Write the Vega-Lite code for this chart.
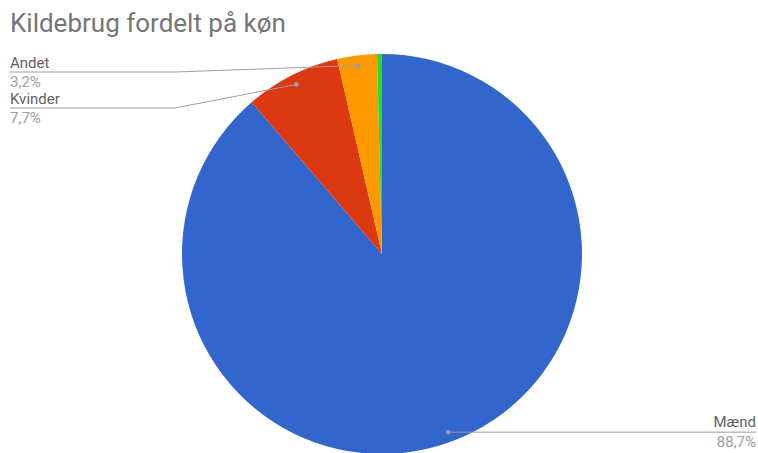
{
  "$schema": "https://vega.github.io/schema/vega-lite/v6.json",
  "width": 758,
  "height": 408,
  "autosize": {"type": "none"},
  "padding": {"left": 0, "top": 45, "right": 0, "bottom": 0},
  "background": "white",
  "title": {"text": "Kildebrug fordelt på køn", "anchor": "start", "frame": "group", "dx": 10, "dy": 25, "offset": 12, "baseline": "alphabetic", "font": "Roboto", "fontSize": 26, "fontWeight": "normal", "color": "#757575"},
  "config": {"view": {"stroke": null}},
  "data": {"values": [
    {"kategori": "Mænd", "andel": 88.7, "idx": 1},
    {"kategori": "Kvinder", "andel": 7.7, "idx": 2},
    {"kategori": "Andet", "andel": 3.2, "idx": 3},
    {"kategori": "Ukendt", "andel": 0.4, "idx": 4}
  ]},
  "layer": [
    {
      "mark": {"type": "arc", "outerRadius": 200},
      "encoding": {
        "theta": {"field": "andel", "type": "quantitative", "stack": true},
        "order": {"field": "idx", "type": "quantitative"},
        "color": {"field": "kategori", "type": "nominal", "scale": {"domain": ["Mænd", "Kvinder", "Andet", "Ukendt"], "range": ["#3366cc", "#dc3912", "#ff9900", "#22e022"]}, "legend": null},
        "x": {"datum": 382, "type": "quantitative", "scale": {"domain": [0, 758], "nice": false, "zero": false}, "axis": null},
        "y": {"datum": 254, "type": "quantitative", "scale": {"domain": [45, 453], "nice": false, "zero": false, "reverse": true}, "axis": null}
      }
    },
    {
      "transform": [
        {"window": [{"op": "sum", "field": "andel", "as": "cum"}], "sort": [{"field": "idx"}], "frame": [null, 0]},
        {"calculate": "2*PI*(datum.cum - datum.andel/2)/100", "as": "vinkel"},
        {"calculate": "382 + 190*sin(datum.vinkel)", "as": "px"},
        {"calculate": "254 - 190*cos(datum.vinkel)", "as": "py"},
        {"filter": "datum.kategori !== 'Ukendt'"},
        {"calculate": "datum.kategori === 'Mænd' ? datum.py : (datum.kategori === 'Andet' ? 72 : 108)", "as": "ly"},
        {"calculate": "datum.kategori === 'Mænd' ? datum.px : 175", "as": "kx"},
        {"calculate": "datum.kategori === 'Mænd' ? 756 : 10", "as": "ex"},
        {"calculate": "replace(format(datum.andel, '.1f'), '.', ',') + '%'", "as": "tekst"}
      ],
      "layer": [
        {
          "mark": {"type": "rule", "color": "#9e9e9e", "strokeWidth": 1},
          "encoding": {
            "x": {"field": "px", "type": "quantitative"},
            "y": {"field": "py", "type": "quantitative"},
            "x2": {"field": "kx"},
            "y2": {"field": "ly"}
          }
        },
        {
          "mark": {"type": "rule", "color": "#9e9e9e", "strokeWidth": 1},
          "encoding": {
            "x": {"field": "kx", "type": "quantitative"},
            "y": {"field": "ly", "type": "quantitative"},
            "x2": {"field": "ex"}
          }
        },
        {
          "mark": {"type": "circle", "size": 22, "color": "#9e9e9e", "opacity": 1},
          "encoding": {
            "x": {"field": "px", "type": "quantitative"},
            "y": {"field": "py", "type": "quantitative"}
          }
        },
        {
          "transform": [{"filter": "datum.kategori !== 'Mænd'"}],
          "layer": [
            {
              "mark": {"type": "text", "align": "left", "baseline": "alphabetic", "dy": -4, "font": "Roboto", "fontSize": 15, "color": "#616161"},
              "encoding": {
                "x": {"field": "ex", "type": "quantitative"},
                "y": {"field": "ly", "type": "quantitative"},
                "text": {"field": "kategori"}
              }
            },
            {
              "mark": {"type": "text", "align": "left", "baseline": "alphabetic", "dy": 15, "font": "Roboto", "fontSize": 15, "color": "#9e9e9e"},
              "encoding": {
                "x": {"field": "ex", "type": "quantitative"},
                "y": {"field": "ly", "type": "quantitative"},
                "text": {"field": "tekst"}
              }
            }
          ]
        },
        {
          "transform": [{"filter": "datum.kategori === 'Mænd'"}],
          "layer": [
            {
              "mark": {"type": "text", "align": "right", "baseline": "alphabetic", "dy": -5, "font": "Roboto", "fontSize": 15, "color": "#616161"},
              "encoding": {
                "x": {"field": "ex", "type": "quantitative"},
                "y": {"field": "ly", "type": "quantitative"},
                "text": {"field": "kategori"}
              }
            },
            {
              "mark": {"type": "text", "align": "right", "baseline": "alphabetic", "dy": 15, "font": "Roboto", "fontSize": 15, "color": "#9e9e9e"},
              "encoding": {
                "x": {"field": "ex", "type": "quantitative"},
                "y": {"field": "ly", "type": "quantitative"},
                "text": {"field": "tekst"}
              }
            }
          ]
        }
      ]
    }
  ]
}
